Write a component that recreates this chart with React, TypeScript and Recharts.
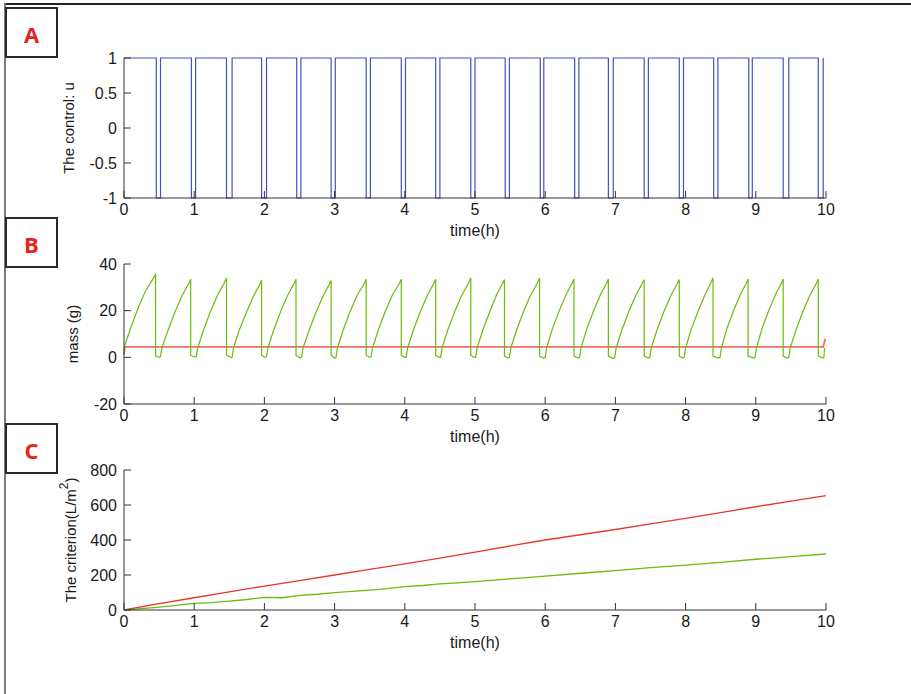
import { LineChart, Line, XAxis, YAxis } from 'recharts'

const FONT = '"Liberation Sans", Arial, sans-serif'
const INK = '#1a1a1a'

const timeTicks = [0, 1, 2, 3, 4, 5, 6, 7, 8, 9, 10]
const controlTicks = [-1, -0.5, 0, 0.5, 1]
const massTicks = [-20, 0, 20, 40]
const criterionTicks = [0, 200, 400, 600, 800]

// instants (h) where the control switches to -1 and back to 1
const controlOff = [0.46, 0.96, 1.46, 1.96, 2.46, 2.95, 3.45, 3.95, 4.44, 4.94, 5.43, 5.93, 6.42, 6.9, 7.41, 7.91, 8.4, 8.9, 9.39, 9.89]
const controlOn = [0.52, 1.02, 1.54, 2.03, 2.52, 3.01, 3.51, 4.01, 4.5, 5.0, 5.49, 5.98, 6.48, 6.97, 7.47, 7.97, 8.46, 8.95, 9.47, 9.96]

// mass (g), green trace: [time, value]
const massGreen: [number, number][] = [
  [0, 1.5], [0.01, 5], [0.1, 13], [0.2, 21], [0.3, 28], [0.4, 33], [0.45, 35.5], [0.45, 0.5], [0.5, 0],
  [0.52, 0.3], [0.54, 4], [0.62, 11], [0.72, 19], [0.82, 26], [0.92, 31.5], [0.95, 33.5], [0.95, 0.8], [1.0, 0.2],
  [1.03, 0.3], [1.05, 4], [1.13, 11.5], [1.23, 19.5], [1.33, 26.5], [1.43, 32], [1.46, 34], [1.46, 1], [1.52, 0],
  [1.54, 0], [1.56, 4], [1.64, 11.5], [1.74, 19], [1.84, 26], [1.93, 31], [1.96, 33], [1.96, 0.8], [2.01, 0],
  [2.03, 0.2], [2.05, 4], [2.13, 11.5], [2.23, 19.5], [2.33, 26.5], [2.42, 31.5], [2.45, 33.5], [2.45, 0.8], [2.51, -0.2],
  [2.53, 0], [2.55, 4], [2.63, 11], [2.73, 19], [2.83, 26], [2.92, 31], [2.95, 33], [2.95, 1], [3.0, -0.3],
  [3.02, 0], [3.04, 4], [3.12, 11.5], [3.22, 19.5], [3.32, 26.5], [3.42, 31.5], [3.45, 33.5], [3.45, 0.8], [3.5, 0],
  [3.52, 0.2], [3.54, 4], [3.62, 11.5], [3.72, 19.5], [3.82, 26.5], [3.92, 31.5], [3.95, 33.5], [3.95, 0.8], [4.0, 0],
  [4.02, 0], [4.04, 4], [4.12, 11.5], [4.22, 19.5], [4.32, 26.5], [4.41, 31.5], [4.44, 33.5], [4.44, 0.8], [4.49, 0],
  [4.51, 0], [4.53, 4], [4.61, 11.5], [4.71, 19.5], [4.81, 26.5], [4.91, 32], [4.94, 34], [4.94, 0.8], [4.99, 0],
  [5.01, 0], [5.03, 4], [5.11, 11.5], [5.21, 19.5], [5.31, 27], [5.39, 31.5], [5.42, 33.3], [5.42, 0.5], [5.47, -0.3],
  [5.49, 0], [5.51, 4], [5.59, 11.5], [5.69, 19.5], [5.79, 26.5], [5.89, 32], [5.92, 34], [5.92, 0.5], [5.98, -0.3],
  [6.0, 0], [6.02, 4], [6.1, 12], [6.2, 20], [6.3, 27], [6.38, 31.5], [6.41, 33.6], [6.41, 0.5], [6.47, -0.3],
  [6.49, 0], [6.51, 4], [6.59, 12], [6.69, 20], [6.79, 27], [6.87, 31.5], [6.9, 33.6], [6.9, 0.5], [6.97, -0.5],
  [6.99, 0], [7.01, 4], [7.09, 11.5], [7.19, 19.5], [7.29, 26.5], [7.38, 31.5], [7.41, 33.3], [7.41, 0.5], [7.47, -0.3],
  [7.49, 0], [7.51, 4], [7.59, 11.5], [7.69, 19.5], [7.79, 26.5], [7.88, 31.5], [7.91, 33.3], [7.91, 0.5], [7.96, -0.3],
  [7.98, 0], [8.0, 4], [8.08, 12], [8.18, 20], [8.28, 27], [8.36, 32], [8.39, 34], [8.39, 0.5], [8.47, -0.3],
  [8.49, 0], [8.51, 4], [8.59, 12.5], [8.69, 20.5], [8.79, 27.5], [8.86, 31.5], [8.89, 33.6], [8.89, 0.5], [8.97, -0.3],
  [8.99, 0], [9.01, 4], [9.09, 12.5], [9.19, 20.5], [9.29, 27.5], [9.36, 31.5], [9.39, 33.6], [9.39, 0.5], [9.45, -0.3],
  [9.47, 0], [9.49, 4], [9.57, 11.5], [9.67, 19.5], [9.77, 26.5], [9.86, 31.5], [9.89, 33.6], [9.89, 0.5], [9.96, -0.3],
  [9.97, 0], [9.98, 4],
]

// mass (g), red trace
const massRed: [number, number][] = [[0, 1], [0.01, 4.5], [9.96, 4.5], [9.99, 8]]

// criterion (L/m2)
const criterionRed: [number, number][] = [
  [0, 0], [0.5, 36], [1, 70], [1.5, 104], [2, 137], [2.5, 168], [3, 200], [3.5, 232], [4, 263], [4.5, 297],
  [5, 331], [5.5, 366], [6, 400], [6.5, 430], [7, 460], [7.5, 492], [8, 524], [8.5, 557], [9, 590], [9.5, 622], [10, 653],
]
const criterionGreen: [number, number][] = [
  [0, 0], [0.25, 8], [0.5, 17], [0.75, 27], [1, 38], [1.25, 42], [1.5, 51], [1.75, 60], [2, 72], [2.25, 70],
  [2.5, 84], [2.75, 90], [3, 99], [3.25, 106], [3.5, 114], [3.75, 122], [4, 133], [4.25, 140], [4.5, 149], [4.75, 155],
  [5, 162], [5.5, 178], [6, 194], [6.5, 210], [7, 225], [7.5, 242], [8, 257], [8.5, 272], [9, 290], [9.5, 305], [10, 320],
]

const toRows = (pts: [number, number][]) => pts.map(([t, v]) => ({ t, v }))

const controlRows = [{ t: 0, v: 1 }]
controlOff.forEach((off, i) => {
  controlRows.push({ t: off, v: 1 }, { t: off, v: -1 }, { t: controlOn[i], v: -1 }, { t: controlOn[i], v: 1 })
})

const tickStyle = { fontSize: 16, fill: INK, fontFamily: FONT }

function YTitle({ viewBox, x, children }: any) {
  const vb = viewBox || { y: 0, height: 0 }
  const cy = vb.y + vb.height / 2
  return (
    <text
      x={x}
      y={cy}
      transform={`rotate(-90 ${x} ${cy})`}
      textAnchor="middle"
      dominantBaseline="central"
      fontSize={15}
      fontFamily={FONT}
      fill={INK}
    >
      {children}
    </text>
  )
}

function Panel({ top, domain, ticks, title, children }: any) {
  return (
    <div style={{ position: 'absolute', left: 0, top }}>
      <LineChart width={911} height={250} margin={{ top: 58, right: 85, bottom: 7, left: 0 }}>
        <XAxis
          dataKey="t"
          type="number"
          domain={[0, 10]}
          ticks={timeTicks}
          interval={0}
          tickSize={-7}
          tickMargin={13}
          stroke="#333"
          tick={tickStyle}
          height={45}
          label={{ value: 'time(h)', position: 'insideBottom', offset: 7, fill: INK, fontSize: 16, fontFamily: FONT }}
        />
        <YAxis
          type="number"
          domain={domain}
          ticks={ticks}
          interval={0}
          tickSize={-7}
          tickMargin={14}
          width={124}
          stroke="#333"
          tick={tickStyle}
          label={title}
        />
        {children}
      </LineChart>
    </div>
  )
}

function Tag({ top, letter }: { top: number; letter: string }) {
  return (
    <div
      style={{
        position: 'absolute',
        left: 5,
        top,
        width: 49,
        height: 44,
        border: '2px solid #2a2a2a',
        display: 'flex',
        alignItems: 'center',
        justifyContent: 'center',
        paddingTop: 3,
        boxSizing: 'content-box',
        color: '#e3261c',
        fontFamily: '"Open Sans", sans-serif',
        fontWeight: 700,
        fontSize: 22,
      }}
    >
      {letter}
    </div>
  )
}

export default function App() {
  return (
    <div style={{ position: 'absolute', left: 0, top: 0, width: 911, height: 694, background: '#fff', overflow: 'hidden' }}>
      <Panel
        top={0}
        domain={[-1, 1]}
        ticks={controlTicks}
        title={(p: any) => <YTitle viewBox={p.viewBox} x={68}>The control: u</YTitle>}
      >
        <Line data={controlRows} dataKey="v" type="linear" stroke="#4652b4" strokeWidth={1.2} dot={false} isAnimationActive={false} />
      </Panel>
      <Panel
        top={206}
        domain={[-20, 40]}
        ticks={massTicks}
        title={(p: any) => <YTitle viewBox={p.viewBox} x={72}>mass (g)</YTitle>}
      >
        <Line data={toRows(massRed)} dataKey="v" type="linear" stroke="#ee7169" strokeWidth={1.8} dot={false} isAnimationActive={false} />
        <Line data={toRows(massGreen)} dataKey="v" type="linear" stroke="#6cbc0a" strokeWidth={1.2} dot={false} isAnimationActive={false} />
      </Panel>
      <Panel
        top={412}
        domain={[0, 800]}
        ticks={criterionTicks}
        title={(p: any) => (
          <YTitle viewBox={p.viewBox} x={70}>
            The criterion(L/m<tspan dy={-6} fontSize={12}>2</tspan><tspan dy={6}>)</tspan>
          </YTitle>
        )}
      >
        <Line data={toRows(criterionRed)} dataKey="v" type="linear" stroke="#e5382e" strokeWidth={1.3} dot={false} isAnimationActive={false} />
        <Line data={toRows(criterionGreen)} dataKey="v" type="linear" stroke="#6cbc0a" strokeWidth={1.3} dot={false} isAnimationActive={false} />
      </Panel>

      <div style={{ position: 'absolute', left: 4, top: 3, width: 907, height: 2, background: '#222' }} />
      <div style={{ position: 'absolute', left: 4, top: 3, width: 2, height: 691, background: '#7a7a7a' }} />
      <Tag top={7} letter="A" />
      <Tag top={217} letter="B" />
      <Tag top={423} letter="C" />
    </div>
  )
}
